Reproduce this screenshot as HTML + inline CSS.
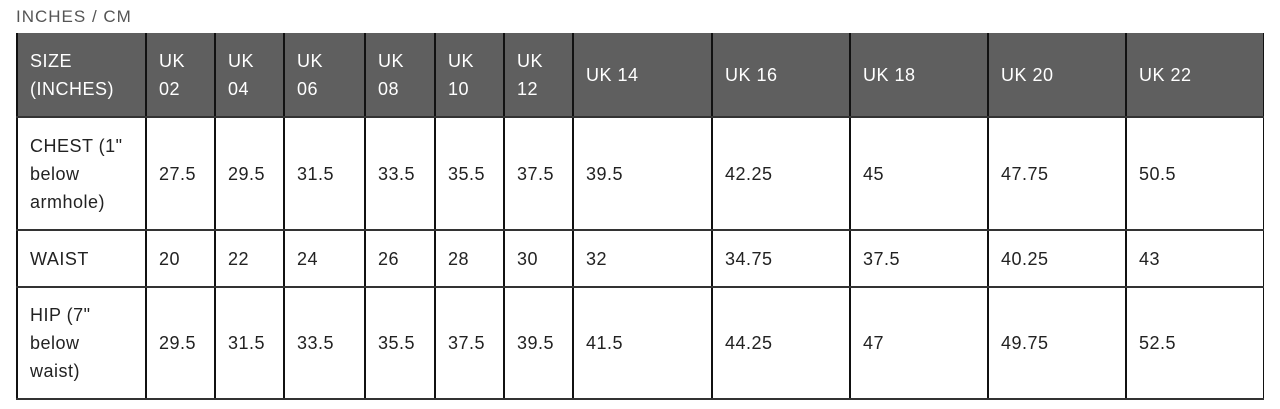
<!DOCTYPE html>
<html><head><meta charset="utf-8"><style>
body{margin:0;width:1280px;height:409px;background:#fff;font-family:"Liberation Sans",sans-serif;overflow:hidden;position:relative}
#cap{position:absolute;left:16px;top:7px;font-size:17px;color:#555;letter-spacing:1px}
#tbl{position:absolute;left:16px;top:33px;width:1248px;height:366px}
.hd{position:absolute;left:0;top:0;width:1248px;height:84px;background:#5f5f5f}
.vl{position:absolute;top:0;width:1.5px;height:366px;background:#111}
.hl{position:absolute;left:0;width:1248px;height:1.5px;background:#333}
.c{position:absolute;font-size:18px;line-height:28px;color:#222;letter-spacing:0.5px}
.h{color:#fff}
</style></head><body>
<div id="cap">INCHES / CM</div>
<div id="tbl">
<div class="hd"></div>
</div>
<script>
const cols=[0,129,198,267,348,418,487,556,695,833,971,1109,1247];
const rowsY=[0,84,197,254,366];
const headers=["SIZE<br>(INCHES)","UK<br>02","UK<br>04","UK<br>06","UK<br>08","UK<br>10","UK<br>12","UK 14","UK 16","UK 18","UK 20","UK 22"];
const rowLabels=["CHEST (1\"<br>below<br>armhole)","WAIST","HIP (7\"<br>below<br>waist)"];
const chest=["27.5","29.5","31.5","33.5","35.5","37.5","39.5","42.25","45","47.75","50.5"];
const waist=["20","22","24","26","28","30","32","34.75","37.5","40.25","43"];
const hip=["29.5","31.5","33.5","35.5","37.5","39.5","41.5","44.25","47","49.75","52.5"];
const t=document.getElementById('tbl');
cols.forEach((x,i)=>{const d=document.createElement('div');d.className='vl';d.style.left=(i==cols.length-1?x-0.5:x)+'px';


t.appendChild(d);});
rowsY.slice(1).forEach(y=>{const d=document.createElement('div');d.className='hl';d.style.top=(y-1)+'px';


t.appendChild(d);});
function cell(html,ci,ri,hdr){const d=document.createElement('div');d.className='c'+(hdr?' h':'');d.innerHTML=html;
const lines=html.split('<br>').length;const top=rowsY[ri],h=rowsY[ri+1]-rowsY[ri];
d.style.left=(cols[ci]+14)+'px';d.style.top=(top+h/2-lines*14)+'px';


t.appendChild(d);}
headers.forEach((h,i)=>cell(h,i,0,true));
[chest,waist,hip].forEach((arr,r)=>{cell(rowLabels[r],0,r+1);arr.forEach((v,i)=>cell(v,i+1,r+1));});
</script>
</body></html>
